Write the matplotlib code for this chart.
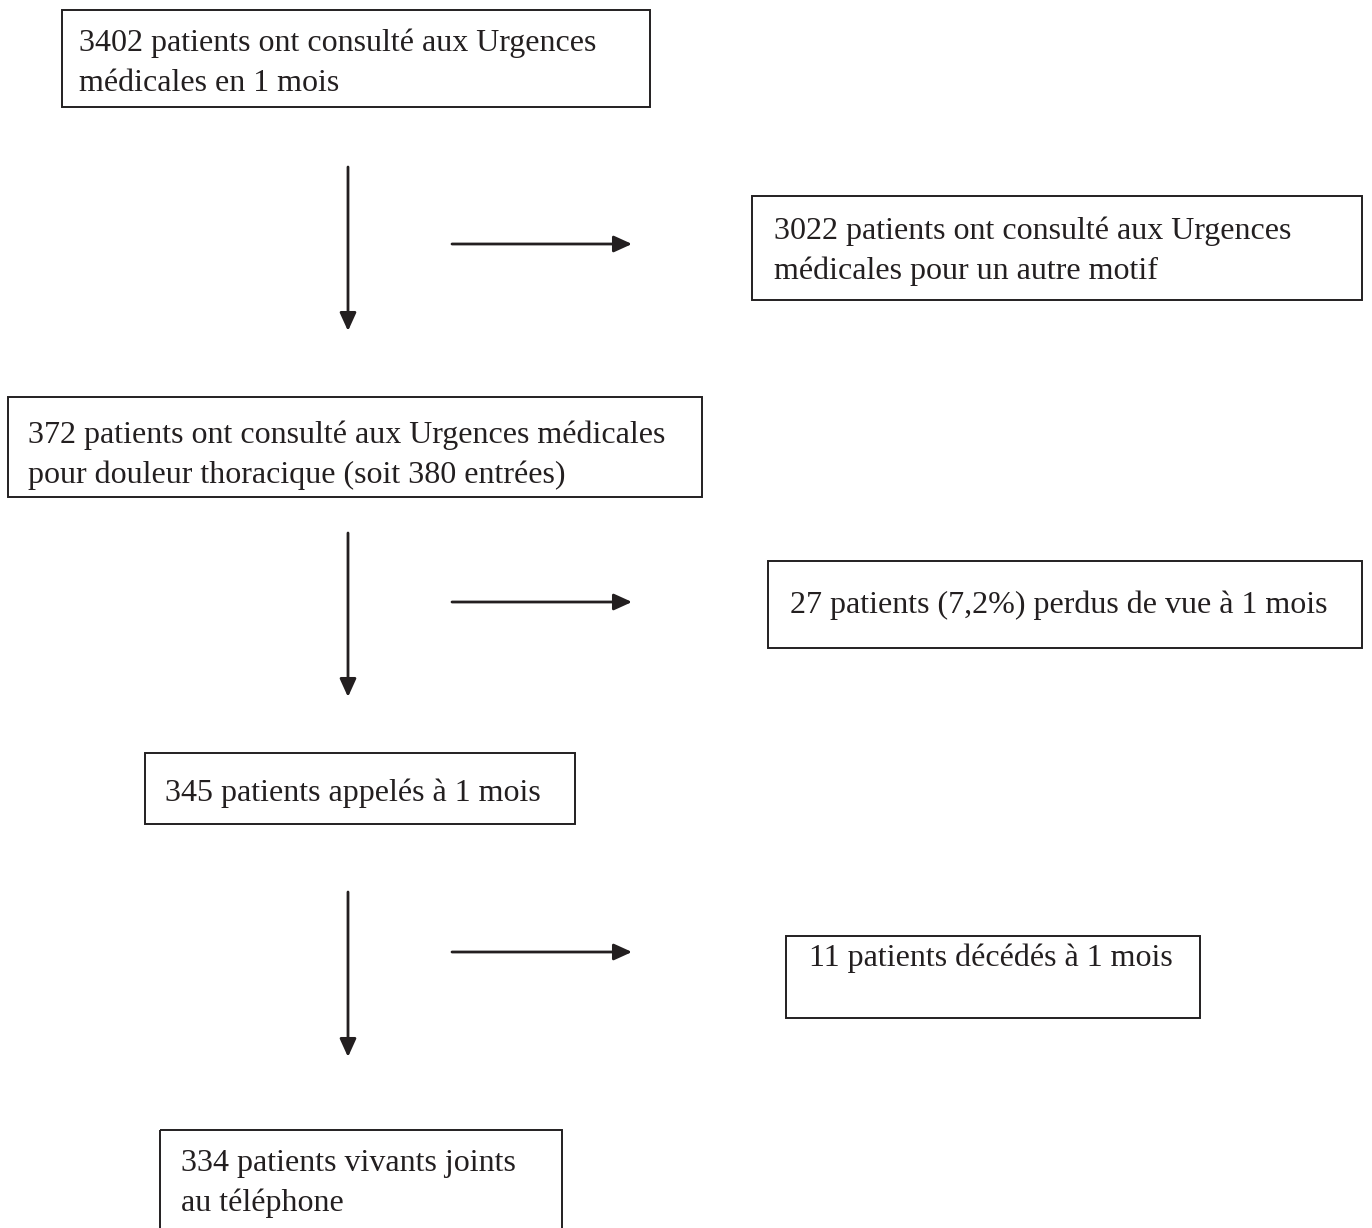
import matplotlib.pyplot as plt
from matplotlib.patches import Rectangle

# Flowchart text content
main_steps = [
    "3402 patients ont consulté aux Urgences\nmédicales en 1 mois",
    "372 patients ont consulté aux Urgences médicales\npour douleur thoracique (soit 380 entrées)",
    "345 patients appelés à 1 mois",
    "334 patients vivants joints\nau téléphone",
]
side_steps = [
    "3022 patients ont consulté aux Urgences\nmédicales pour un autre motif",
    "27 patients (7,2%) perdus de vue à 1 mois",
    "11 patients décédés à 1 mois",
]

# layout in pixel coords (x0, y0, x1, y1), then text x and first baseline
main_boxes = [(62, 10, 650, 107), (8, 397, 702, 497), (145, 753, 575, 824), (160, 1130, 562, 1240)]
side_boxes = [(752, 196, 1362, 300), (768, 561, 1362, 648), (786, 936, 1200, 1018)]
main_text_x = [79, 28, 165, 181]
side_text_x = [774, 790, 809]
main_baseline = [51, 443, 801, 1171]
side_baseline = [239, 613, 966]
line_gap = 40
down_arrows = [(167, 331), (533, 697), (892, 1057)]
right_arrows_y = [244, 602, 952]

plt.rcParams['font.family'] = ['Liberation Serif', 'DejaVu Serif']
ink = '#231f20'

fig = plt.figure(figsize=(13.72, 12.28), dpi=100)
ax = fig.add_axes([0, 0, 1, 1])
ax.set_xlim(0, 1372)
ax.set_ylim(1228, 0)
ax.axis('off')


def draw_box(box, text, tx, base):
    x0, y0, x1, y1 = box
    ax.add_patch(Rectangle((x0, y0), x1 - x0, y1 - y0, fill=False, edgecolor=ink, linewidth=1.4))
    for i, line in enumerate(text.split('\n')):
        ax.text(tx, base + i * line_gap, line, fontsize=23, color=ink, ha='left', va='baseline')


for box, txt, tx, base in zip(main_boxes, main_steps, main_text_x, main_baseline):
    draw_box(box, txt, tx, base)
for box, txt, tx, base in zip(side_boxes, side_steps, side_text_x, side_baseline):
    draw_box(box, txt, tx, base)

arrow_style = dict(arrowstyle='-|>,head_length=1.1,head_width=0.5', color=ink, lw=2,
                   shrinkA=0, shrinkB=0)
for y0, y1 in down_arrows:
    ax.annotate('', xy=(348, y1), xytext=(348, y0), arrowprops=arrow_style)
for y in right_arrows_y:
    ax.annotate('', xy=(632, y), xytext=(452, y), arrowprops=arrow_style)

plt.savefig('out.png', dpi=100)
